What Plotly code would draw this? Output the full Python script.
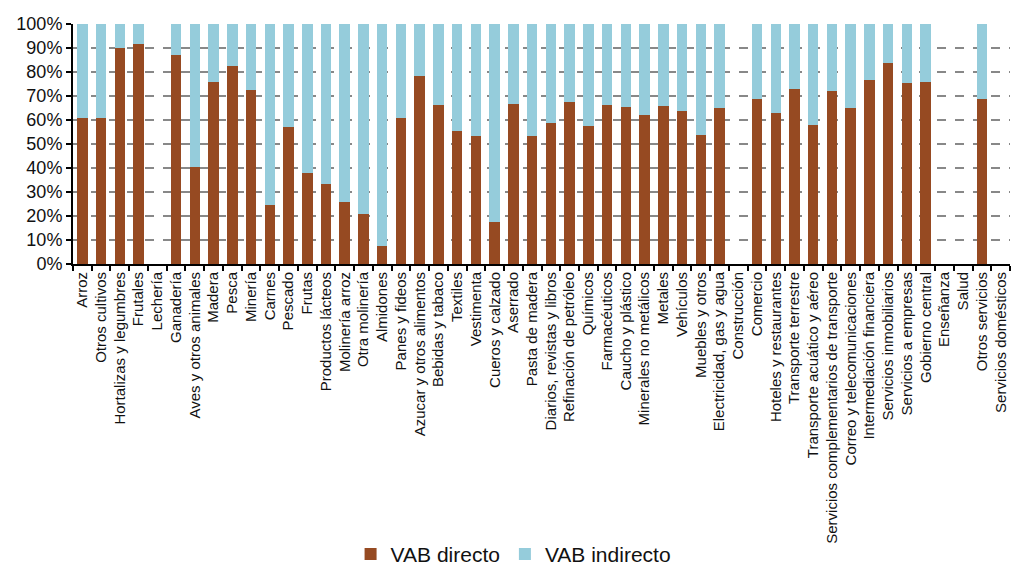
import plotly.graph_objects as go

# Sectores de la economía
sectores = [
    "Arroz", "Otros cultivos", "Hortalizas y legumbres", "Frutales", "Lechería",
    "Ganadería", "Aves y otros animales", "Madera", "Pesca", "Minería",
    "Carnes", "Pescado", "Frutas", "Productos lácteos", "Molinería arroz",
    "Otra molinería", "Almidones", "Panes y fideos", "Azucar y otros alimentos",
    "Bebidas y tabaco", "Textiles", "Vestimenta", "Cueros y calzado", "Aserrado",
    "Pasta de madera", "Diarios, revistas y libros", "Refinación de petróleo",
    "Químicos", "Farmacéuticos", "Caucho y plástico", "Minerales no metálicos",
    "Metales", "Vehículos", "Muebles y otros", "Electricidad, gas y agua",
    "Construcción", "Comercio", "Hoteles y restaurantes", "Transporte terrestre",
    "Transporte acuático y aéreo", "Servicios complementarios de transporte",
    "Correo y telecomunicaciones", "Intermediación financiera",
    "Servicios inmobiliarios", "Servicios a empresas", "Gobierno central",
    "Enseñanza", "Salud", "Otros servicios", "Servicios domésticos",
]

# Participación del VAB directo (%); los sectores sin dato quedan en 0
vab_directo = [
    61.0, 61.0, 89.8, 91.5, 0.0,
    87.2, 40.4, 76.0, 82.5, 72.6,
    24.7, 57.0, 37.9, 33.3, 25.8,
    20.9, 7.4, 60.7, 78.4,
    66.2, 55.3, 53.2, 17.7, 66.7,
    53.3, 58.6, 67.7,
    57.7, 66.2, 65.3, 62.0,
    65.7, 63.8, 53.9, 65.0,
    0.0, 68.7, 62.8, 72.8,
    58.1, 72.1,
    65.0, 76.5,
    83.8, 75.6, 76.0,
    0.0, 0.0, 68.7, 0.0,
]

# Participación del VAB indirecto (%)
vab_indirecto = [
    39.0, 39.0, 10.2, 8.5, 0.0,
    12.8, 59.6, 24.0, 17.5, 27.4,
    75.3, 43.0, 62.1, 66.7, 74.2,
    79.1, 92.6, 39.3, 21.6,
    33.8, 44.7, 46.8, 82.3, 33.3,
    46.7, 41.4, 32.3,
    42.3, 33.8, 34.7, 38.0,
    34.3, 36.2, 46.1, 35.0,
    0.0, 31.3, 37.2, 27.2,
    41.9, 27.9,
    35.0, 23.5,
    16.2, 24.4, 24.0,
    0.0, 0.0, 31.3, 0.0,
]

ticks_y = [0, 10, 20, 30, 40, 50, 60, 70, 80, 90, 100]

color_directo = "#964A22"
color_indirecto = "#95CCDB"

fig = go.Figure()
fig.add_trace(go.Bar(
    x=sectores, y=vab_directo, name="VAB directo",
    marker=dict(color=color_directo, line=dict(width=0)),
))
fig.add_trace(go.Bar(
    x=sectores, y=vab_indirecto, name="VAB indirecto",
    marker=dict(color=color_indirecto, line=dict(width=0)),
))

fig.update_layout(
    barmode="stack",
    bargap=0.44,
    width=1016, height=568,
    margin=dict(l=73, r=6, t=24, b=304),
    paper_bgcolor="white",
    plot_bgcolor="white",
    font=dict(family="Liberation Sans, Arial, sans-serif", color="#111111"),
    showlegend=True,
    legend=dict(
        orientation="h",
        xref="container", yref="container",
        x=0.505, y=0.024, xanchor="center", yanchor="middle",
        font=dict(size=21, color="#111111"),
        itemsizing="constant",
        itemwidth=30,
        traceorder="normal",
        tracegroupgap=0,
    ),
)

fig.update_xaxes(
    type="category",
    automargin=False,
    tickangle=-90,
    tickfont=dict(size=15, color="#111111"),
    showline=True, linecolor="#000000", linewidth=2,
    ticks="outside", ticklen=5, tickcolor="#000000", tickwidth=1.5,
    tickson="boundaries",
    showgrid=False,
    range=[-0.5, len(sectores) - 0.5],
)

fig.update_yaxes(
    automargin=False,
    range=[0, 100],
    tickvals=ticks_y,
    ticktext=[f"{v}%" for v in ticks_y],
    tickfont=dict(size=18, color="#111111"),
    showline=True, linecolor="#000000", linewidth=2,
    ticks="outside", ticklen=5, tickcolor="#000000", tickwidth=1.5,
    showgrid=True, gridcolor="#888888", gridwidth=1.5, griddash="dash",
    zeroline=False,
)

fig.write_html("out.html")
